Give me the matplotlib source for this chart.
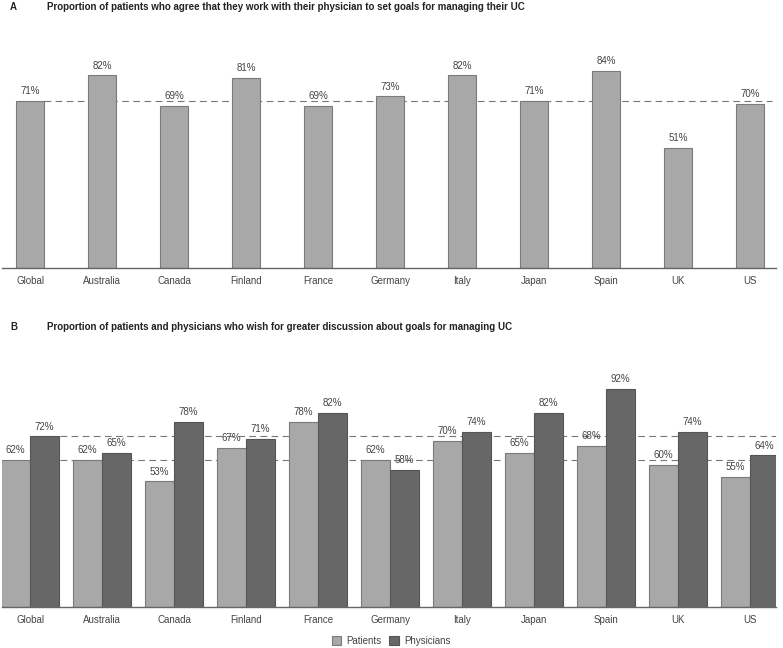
import numpy as np
import matplotlib.pyplot as plt
from matplotlib.patches import Patch

countries = ["Global", "Australia", "Canada", "Finland", "France", "Germany",
             "Italy", "Japan", "Spain", "UK", "US"]
agree = [71, 82, 69, 81, 69, 73, 82, 71, 84, 51, 70]
patients = [62, 62, 53, 67, 78, 62, 70, 65, 68, 60, 55]
physicians = [72, 65, 78, 71, 82, 58, 74, 82, 92, 74, 64]

light = "#a8a8a8"
dark = "#676767"
txt = "#444444"

plt.rcParams["font.family"] = ["Liberation Sans", "DejaVu Sans"]

fig = plt.figure(figsize=(7.83, 6.48), dpi=100)
W, H = 783, 648


def make_ax(x0, x1, ybase, ytop):
    return fig.add_axes([x0 / W, 1 - ybase / H, (x1 - x0) / W, (ybase - ytop) / H])


def style(ax):
    for s in ["top", "right", "left"]:
        ax.spines[s].set_visible(False)
    ax.spines["bottom"].set_color("#666666")
    ax.spines["bottom"].set_linewidth(1.0)
    ax.set_yticks([])
    ax.tick_params(axis="x", length=0, pad=6, labelsize=7, labelcolor=txt)
    ax.set_ylim(0, 100)
    ax.set_xlim(-0.39, 10.36)
    ax.set_xticks(np.arange(len(countries)))
    ax.set_xticklabels(countries)


x = np.arange(len(countries))

# panel A
ax1 = make_ax(2, 776, 268, 33)
style(ax1)
ax1.plot([0.2, 10.3], [agree[0]] * 2, color="#777777", lw=0.8, ls=(0, (6, 4)), zorder=1)
ax1.bar(x, agree, width=0.4, color=light, edgecolor="#7a7a7a", lw=0.8, zorder=2)
for xi, v in zip(x, agree):
    ax1.text(xi, v + 2, f"{v}%", ha="center", va="bottom", fontsize=7, color=txt)
fig.text(10 / W, 1 - 7 / H, "A", fontsize=7, fontweight="bold", va="center", color="#222222")
fig.text(47 / W, 1 - 7 / H,
         "Proportion of patients who agree that they work with their physician to set goals for managing their UC",
         fontsize=7, fontweight="bold", va="center", color="#222222")

# panel B
ax2 = make_ax(2, 776, 607, 370)
style(ax2)
ax2.plot([0.42, 10.36], [patients[0]] * 2, color="#777777", lw=0.8, ls=(0, (6, 4)), zorder=1)
ax2.plot([0.42, 10.36], [physicians[0]] * 2, color="#777777", lw=0.8, ls=(0, (6, 4)), zorder=1)
bw = 0.4
ax2.bar(x - bw / 2, patients, width=bw, color=light, edgecolor="#7a7a7a", lw=0.8, zorder=2)
ax2.bar(x + bw / 2, physicians, width=bw, color=dark, edgecolor="#555555", lw=0.8, zorder=2)
for xi, v in zip(x, patients):
    ax2.text(xi - bw / 2, v + 2, f"{v}%", ha="center", va="bottom", fontsize=7, color=txt)
for xi, v in zip(x, physicians):
    ax2.text(xi + bw / 2, v + 2, f"{v}%", ha="center", va="bottom", fontsize=7, color=txt)
fig.text(10 / W, 1 - 327 / H, "B", fontsize=7, fontweight="bold", va="center", color="#222222")
fig.text(47 / W, 1 - 327 / H,
         "Proportion of patients and physicians who wish for greater discussion about goals for managing UC",
         fontsize=7, fontweight="bold", va="center", color="#222222")

handles = [Patch(facecolor=light, edgecolor="#7a7a7a", lw=0.8, label="Patients"),
           Patch(facecolor=dark, edgecolor="#555555", lw=0.8, label="Physicians")]
leg = fig.legend(handles=handles, loc="center", bbox_to_anchor=(391 / W, 1 - 641 / H),
                 ncol=2, frameon=False, fontsize=7, handlelength=1.0, handleheight=1.0,
                 handletextpad=0.5, columnspacing=0.8)
for t in leg.get_texts():
    t.set_color(txt)

fig.savefig("out.png", dpi=100)
